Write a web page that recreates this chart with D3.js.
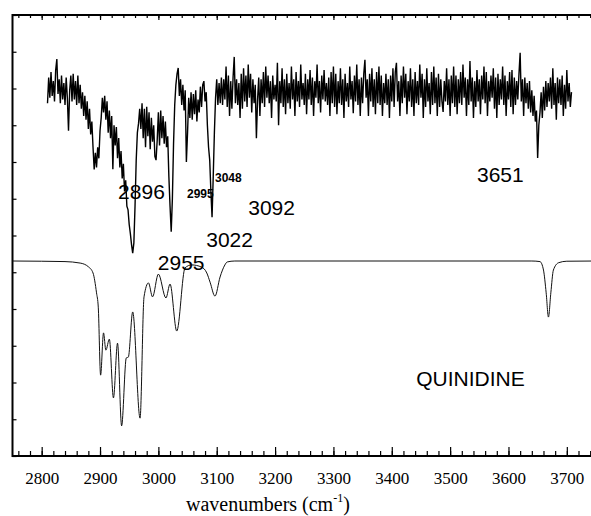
<!DOCTYPE html>
<html>
<head>
<meta charset="utf-8">
<script src="https://d3js.org/d3.v7.min.js"></script>
<style>
body{margin:0;background:#fff}
svg{display:block}
.tick text{font-family:"Liberation Serif","Times New Roman",Times,"DejaVu Serif","Noto Serif",serif;font-size:17px;fill:#000}
.lbl{font-family:"Liberation Sans",Arial,sans-serif;fill:#000}
.title{font-family:"Liberation Serif","Times New Roman",Times,"DejaVu Serif","Noto Serif",serif;font-size:20px;fill:#000}
</style>
</head>
<body>
<div id="graph"></div>
<script>
// measured spectrum, sampled every 2 cm-1 from 2810
var irStart = 2810, irStep = 2
var irValues = [
  96.0, 103.0, 97.5, 104.5, 98.0, 102.0, 96.5, 105.0, 108.0, 98.5,
  102.5, 96.0, 103.5, 97.0, 101.5, 95.5, 103.0, 97.5, 88.5, 99.5,
  103.5, 96.5, 104.0, 97.0, 102.0, 95.5, 103.5, 96.0, 101.0, 94.5,
  99.0, 92.5, 98.0, 91.5, 96.5, 89.0, 94.5, 87.5, 91.0, 84.0,
  78.0, 82.5, 78.5, 84.0, 81.0, 88.5, 92.0, 97.5, 93.5, 98.0,
  91.5, 96.5, 88.0, 94.0, 86.5, 92.5, 78.0, 90.0, 84.5, 89.5,
  81.0, 86.5, 78.5, 83.0, 75.5, 79.5, 72.0, 75.0, 68.0, 67.0,
  63.0, 60.5, 57.5, 55.2, 58.0, 68.0, 80.5, 88.0, 90.5, 94.5,
  89.0, 96.0, 86.5, 94.5, 84.0, 95.0, 87.0, 93.5, 83.5, 92.0,
  85.5, 90.0, 81.5, 80.5, 86.0, 93.5, 84.5, 94.0, 86.5, 92.5,
  85.0, 91.0, 84.0, 87.0, 76.0, 68.0, 61.0, 70.0, 85.0, 95.5,
  101.0, 104.0, 105.6, 98.0, 102.5, 95.5, 101.0, 94.0, 99.5, 80.0,
  88.0, 97.5, 92.0, 99.0, 91.5, 98.5, 93.0, 99.5, 91.0, 97.0,
  93.5, 100.5, 95.0, 101.0, 102.0, 96.5, 99.0, 90.0, 84.0, 80.5,
  72.0, 65.0, 76.0, 88.0, 97.5, 102.5, 95.5, 101.5, 96.0, 103.0,
  95.5, 102.5, 97.0, 106.0, 95.0, 103.5, 92.5, 102.0, 94.5, 103.0,
  108.6, 96.0, 102.5, 95.5, 101.5, 92.0, 104.0, 94.5, 105.5, 96.5,
  103.5, 95.0, 106.5, 97.5, 104.0, 93.5, 102.5, 96.0, 101.0, 86.5,
  97.0, 103.0, 92.5, 102.5, 96.0, 104.5, 95.0, 106.0, 97.5, 103.5,
  96.0, 102.0, 92.0, 103.5, 97.0, 101.0, 96.5, 107.0, 90.0, 102.0,
  96.0, 105.5, 95.0, 102.5, 93.0, 104.0, 96.0, 101.5, 94.5, 106.0,
  97.0, 102.5, 92.5, 104.5, 96.5, 102.0, 95.0, 106.5, 97.0, 101.5,
  95.5, 104.0, 93.0, 102.5, 97.0, 105.0, 95.5, 103.0, 92.5, 102.0,
  97.5, 106.5, 96.0, 102.0, 93.5, 103.5, 97.0, 105.0, 96.5, 101.5,
  95.5, 103.0, 92.5, 104.5, 96.0, 106.0, 95.0, 104.0, 93.0, 102.0,
  96.0, 105.5, 95.5, 102.5, 92.0, 104.0, 96.5, 101.5, 95.0, 106.0,
  97.0, 102.0, 93.3, 103.5, 96.5, 106.5, 95.5, 102.5, 92.5, 103.0,
  96.0, 104.0, 107.8, 97.5, 102.5, 92.5, 104.0, 96.5, 105.5, 95.0,
  102.5, 93.0, 104.5, 96.0, 106.0, 95.5, 103.5, 92.5, 101.5, 96.0,
  104.0, 95.5, 102.5, 92.0, 103.5, 96.5, 105.5, 95.0, 104.5, 107.0,
  96.5, 102.0, 92.5, 103.5, 96.0, 106.0, 97.5, 104.0, 93.0, 102.0,
  96.5, 105.5, 95.0, 102.5, 92.5, 104.5, 96.0, 102.0, 95.5, 106.5,
  97.5, 104.0, 92.0, 102.5, 95.0, 105.5, 96.5, 101.5, 93.0, 104.5,
  95.5, 106.0, 96.0, 103.0, 92.5, 104.0, 95.0, 102.5, 96.5, 93.6,
  102.0, 96.5, 105.5, 95.5, 102.5, 92.5, 103.5, 96.0, 106.0, 95.0,
  103.5, 93.0, 102.5, 96.0, 104.5, 95.5, 106.5, 97.5, 103.0, 92.5,
  102.5, 95.5, 107.5, 96.5, 103.0, 92.0, 102.0, 95.0, 105.0, 96.5,
  102.5, 93.0, 103.5, 97.0, 106.0, 96.0, 104.5, 92.5, 102.0, 96.5,
  103.5, 97.5, 105.5, 94.5, 103.0, 92.0, 104.0, 95.5, 102.5, 97.0,
  106.0, 95.5, 103.5, 92.5, 102.0, 97.0, 104.5, 95.0, 105.0, 93.0,
  103.0, 95.5, 102.0, 97.0, 104.0, 109.7, 96.5, 102.5, 92.5, 103.0,
  96.0, 101.5, 94.5, 102.0, 93.5, 99.5, 92.5, 98.0, 91.0, 94.0,
  81.1, 90.0, 93.5, 99.0, 92.0, 100.5, 94.0, 102.0, 95.0, 101.5,
  96.5, 103.0, 94.5, 105.5, 95.5, 101.5, 91.5, 103.0, 96.0, 102.5,
  95.5, 103.5, 92.5, 101.0, 94.5, 105.0, 96.5, 101.5, 95.0, 99.0
]

// calculated spectrum (wavenumber, intensity)
var calcWavenumbers = [2750, 2800, 2840, 2866, 2880, 2888, 2894, 2897, 2901, 2906,
  2910, 2916, 2923, 2930, 2937, 2945, 2948.5, 2956, 2968.6, 2975.4,
  2983, 2990, 3000, 3013, 3020, 3031.5, 3045.7, 3057, 3074, 3083,
  3088.6, 3097, 3105.7, 3114, 3118, 3131, 3640, 3654, 3660, 3664.6,
  3668.5, 3672.6, 3677, 3686, 3700, 3750]
var calcValues = [53.06, 53.0, 52.9, 52.5, 51.5, 49.8, 44.4, 40.5, 22.0, 33.5,
  28.8, 31.8, 15.8, 30.7, 8.2, 26.7, 26.9, 39.2, 10.3, 43.3,
  47.1, 43.3, 49.5, 43.0, 46.8, 34.0, 51.2, 52.0, 51.4, 49.8,
  47.3, 43.5, 48.7, 52.0, 52.8, 53.06, 53.06, 52.9, 50.6, 44.4,
  37.8, 44.4, 50.6, 52.6, 53.0, 53.06]

var labelText = ['2896', '2995', '3048', '3092', '3022', '2955', '3651', 'QUINIDINE']
var labelWn   = [2931, 3049, 3097, 3154, 3082, 2999, 3546, 3442]
var labelVal  = [69.9, 70.3, 74.6, 65.6, 56.9, 50.6, 74.6, 19.0]
var labelBold = [false, true, true, false, false, false, false, false]

var xMajor = d3.range(2800, 3701, 100)
var xMinor = d3.range(2760, 3750, 20)
var yTicks = d3.range(0, 121, 10)

var width = 591, height = 516
var svg = d3.select('#graph').append('svg').attr('width', width).attr('height', height)

var x = d3.scaleLinear().domain([2750, 3750]).range([12.5, 596])
var y = d3.scaleLinear().domain([0, 120]).range([456, 15])

// axes
svg.append('g').attr('transform', 'translate(0,456)')
  .call(d3.axisBottom(x).tickValues(xMinor).tickSize(-5).tickFormat(''))
svg.append('g').attr('transform', 'translate(0,456)')
  .call(d3.axisBottom(x).tickValues(xMajor).tickSize(-9).tickSizeOuter(0).tickPadding(16).tickFormat(d3.format('d')))
svg.append('g').attr('transform', 'translate(0,15)')
  .call(d3.axisTop(x).tickValues(xMinor).tickSize(-3).tickFormat(''))
svg.append('g').attr('transform', 'translate(0,15)')
  .call(d3.axisTop(x).tickValues(xMajor).tickSize(-5).tickFormat(''))
svg.append('g').attr('transform', 'translate(12.5,0)')
  .call(d3.axisLeft(y).tickValues(yTicks).tickSize(-4).tickFormat(''))

svg.selectAll('.domain').remove()
svg.selectAll('.tick line').attr('stroke', '#000').attr('stroke-width', 1.2)
svg.selectAll('g').attr('font-family', null).attr('font-size', null)

svg.append('rect')
  .attr('x', x(2750)).attr('y', y(120))
  .attr('width', x(3750) - x(2750)).attr('height', y(0) - y(120))
  .attr('fill', 'none').attr('stroke', '#000').attr('stroke-width', 2)

var irData = irValues.map((v, i) => ({wn: irStart + i*irStep, v}))
var calcData = calcWavenumbers.map((wn, i) => ({wn, v: calcValues[i]}))

svg.append('path').datum(irData)
  .attr('d', d3.line().x(d => x(d.wn)).y(d => y(d.v)))
  .attr('fill', 'none').attr('stroke', '#000').attr('stroke-width', 1.4)

svg.append('path').datum(calcData)
  .attr('d', d3.line().x(d => x(d.wn)).y(d => y(d.v)).curve(d3.curveMonotoneX))
  .attr('fill', 'none').attr('stroke', '#111').attr('stroke-width', 1)

svg.selectAll('text.lbl').data(labelText).join('text')
  .attr('class', 'lbl')
  .attr('x', (d, i) => x(labelWn[i]))
  .attr('y', (d, i) => y(labelVal[i]))
  .attr('font-size', (d, i) => labelBold[i] ? 12 : 21)
  .attr('font-weight', (d, i) => labelBold[i] ? 'bold' : 'normal')
  .text(d => d)

var title = svg.append('text').attr('class', 'title')
  .attr('x', 186).attr('y', 511)
title.append('tspan').text('wavenumbers (cm')
title.append('tspan').style('font-size', '12px').attr('dy', -9).text('-1')
title.append('tspan').attr('dy', 9).text(')')
</script>
</body>
</html>
